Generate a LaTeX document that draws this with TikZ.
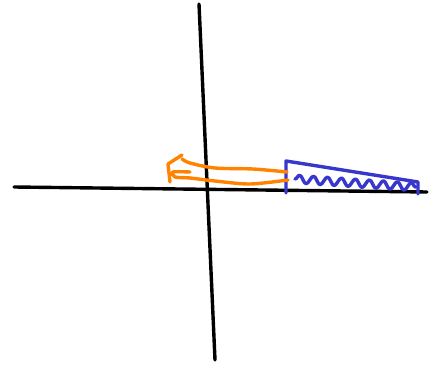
\documentclass[tikz,border=0pt]{standalone}
\usetikzlibrary{decorations.pathmorphing}
\definecolor{sketchorange}{RGB}{255,130,0}
\definecolor{sketchblue}{RGB}{55,55,205}
\tikzset{
  axisline/.style={line width=3.4pt,line cap=round},
  loadline/.style={sketchblue,line width=3.4pt,line cap=round,line join=round},
  forceline/.style={sketchorange,line width=3.4pt,line cap=round,line join=round}
}
\begin{document}
\begin{tikzpicture}[x=1pt,y=-1pt]
    \useasboundingbox (0,0) rectangle (436,366);
    % Axes
    \draw[axisline] (14,187) -- (427,192);
    \draw[axisline] (199,4) -- (215,360);
    % Triangular load
    \draw[loadline] (286,193) -- (286,161) -- (418,182) -- (418,194);
    \draw[loadline,decorate,decoration={snake,amplitude=4pt,segment length=14pt}]
        (295,179) -- (416,187);
    % Resultant force (double-line arrow)
    \draw[forceline] plot[smooth] coordinates {(287,172) (253,169) (215,168) (190,163) (182,159)};
    \draw[forceline] plot[smooth] coordinates {(288,180) (250,184) (215,181) (190,178) (175,177) (173,172) (190,172)};
    \draw[forceline] (182,155) -- (168,164) -- (170,182);
\end{tikzpicture}
\end{document}
